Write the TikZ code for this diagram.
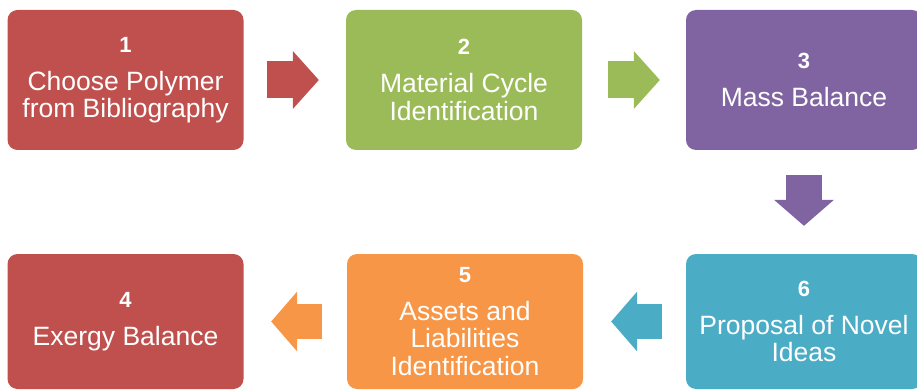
\documentclass[tikz,border=0pt]{standalone}
\usepackage{fontspec}
\setmainfont{Liberation Sans}
\usetikzlibrary{arrows.meta}

\definecolor{stepred}{HTML}{C0504D}
\definecolor{stepgreen}{HTML}{9BBB59}
\definecolor{steppurple}{HTML}{8064A2}
\definecolor{stepteal}{HTML}{4BACC6}
\definecolor{steporange}{HTML}{F79646}

\tikzset{
  stepbox/.style={rectangle, rounded corners=10pt, fill=#1, draw=none,
    minimum width=236pt, text=white, align=center, inner sep=0pt,
    font=\fontsize{26.5}{27.5}\selectfont},
  toprow/.style={minimum height=140pt},
  botrow/.style={minimum height=135pt},
  flow/.style={draw=#1, line width=37pt,
    -{Triangle[width=58pt, length=26pt, line width=0pt]}},
  flowback/.style={draw=#1, line width=35pt,
    -{Triangle[width=60pt, length=26pt, line width=0pt]}},
}
\newcommand{\stepno}[1]{{\fontsize{22}{27.5}\selectfont\bfseries #1}\\[10.5pt]}

\begin{document}
\begin{tikzpicture}[x=1pt, y=-1pt]
  \useasboundingbox (0,0) rectangle (917,390);
  \clip (0,0) rectangle (917,390);

  % process steps
  \node[stepbox=stepred, toprow]    (b1) at (125.5,80) {\stepno{1}Choose Polymer\\from Bibliography};
  \node[stepbox=stepgreen, toprow]  (b2) at (464,80)   {\stepno{2}Material Cycle\\Identification};
  \node[stepbox=steppurple, toprow] (b3) at (804,80)   {\stepno{3}Mass Balance};
  \node[stepbox=stepred, botrow]    (b4) at (125.5,321.5) {\stepno{4}Exergy Balance};
  \node[stepbox=steporange, botrow] (b5) at (465,321.5)   {\stepno{5}Assets and\\Liabilities\\Identification};
  \node[stepbox=stepteal, botrow]   (b6) at (804,321.5)   {\stepno{6}Proposal of Novel\\Ideas};

  % block arrows between the steps
  \draw[flow=stepred, shorten <=23.5pt, shorten >=27pt] (b1.east) -- (b2.west);
  \draw[flow=stepgreen, shorten <=26pt, shorten >=26pt] (b2.east) -- (b3.west);
  \draw[flowback=steppurple, line width=36pt, shorten <=25pt, shorten >=28pt] (b3.south) -- (b6.north);
  \draw[flowback=stepteal, shorten <=24pt, shorten >=28pt] (b6.west) -- (b5.east);
  \draw[flowback=steporange, shorten <=25pt, shorten >=27.5pt] (b5.west) -- (b4.east);
\end{tikzpicture}
\end{document}
